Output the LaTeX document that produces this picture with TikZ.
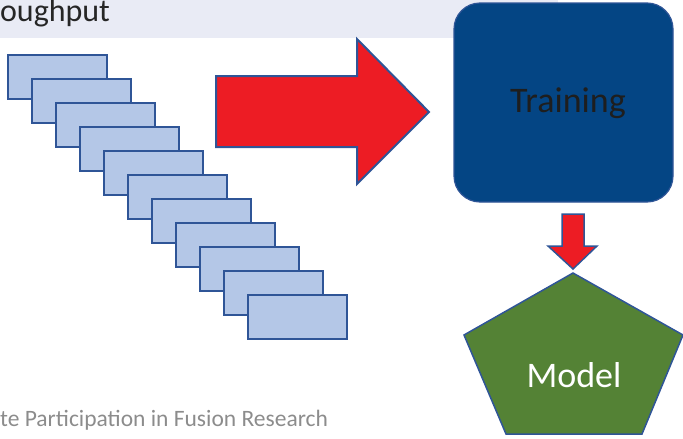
\documentclass[tikz,border=0pt]{standalone}
\usepackage{fontspec}
\setmainfont{Carlito}
\definecolor{bandlav}{HTML}{E9EBF5}
\definecolor{slateedge}{HTML}{2F5597}
\definecolor{pagefill}{HTML}{B4C7E7}
\definecolor{arrowred}{HTML}{ED1C24}
\definecolor{trainblue}{HTML}{044584}
\definecolor{modelgreen}{HTML}{548235}
\definecolor{titlegray}{HTML}{262626}
\definecolor{footgray}{HTML}{8C8C8C}
\tikzset{
  pagebox/.style={draw=slateedge, fill=pagefill, line width=2pt,
    minimum width=99pt, minimum height=44pt, inner sep=0pt, anchor=north west},
  blockarrow/.style={draw=slateedge, fill=arrowred, line width=2pt, line join=miter},
  plain/.style={inner sep=0pt, outer sep=0pt},
}
\begin{document}
\begin{tikzpicture}[x=1pt, y=-1pt]
  \useasboundingbox (0,0) rectangle (683,439);
  \clip (0,0) rectangle (683,439);

  % title band and title
  \fill[bandlav] (0,0) rectangle (558,38);
  \node[plain, anchor=base east, text=titlegray, font=\fontsize{32}{32}\selectfont] (title) at (110,21) {oughput};

  % stacked pages
  \foreach \i in {0,...,10} {
    \node[pagebox] (r\i) at (7+24*\i, 54+24*\i) {};
  }

  % big arrow into training
  \draw[blockarrow] (216,76) -- (357,76) -- (357,39) -- (429,112) -- (357,184) -- (357,147) -- (216,147) -- cycle;

  % training block
  \node[draw=slateedge, fill=trainblue, line width=1.2pt, rounded corners=26pt,
        minimum width=219pt, minimum height=199pt, plain] (train) at (563.5,102.5) {};
  \node[plain, anchor=base, font=\fontsize{36}{36}\selectfont, text=titlegray!80!black] (trainlbl) at (568,112.5) {Training};

  % small arrow into model
  \draw[blockarrow, line width=1.5pt] (562,214) -- (584,214) -- (584,246) -- (597,246) -- (573,269) -- (548,246) -- (562,246) -- cycle;

  % model pentagon
  \draw[draw=slateedge, fill=modelgreen, line width=1.5pt, line join=miter]
    (573,273) -- (683,335) -- (642,434) -- (506,434) -- (464,335) -- cycle;
  \node[plain, anchor=base, text=white, font=\fontsize{36}{36}\selectfont] (model) at (574,387) {Model};

  % footer
  \node[plain, anchor=base east, text=footgray, font=\fontsize{23.5}{23.5}\selectfont] (footer) at (328,426) {te Participation in Fusion Research};
\end{tikzpicture}
\end{document}
